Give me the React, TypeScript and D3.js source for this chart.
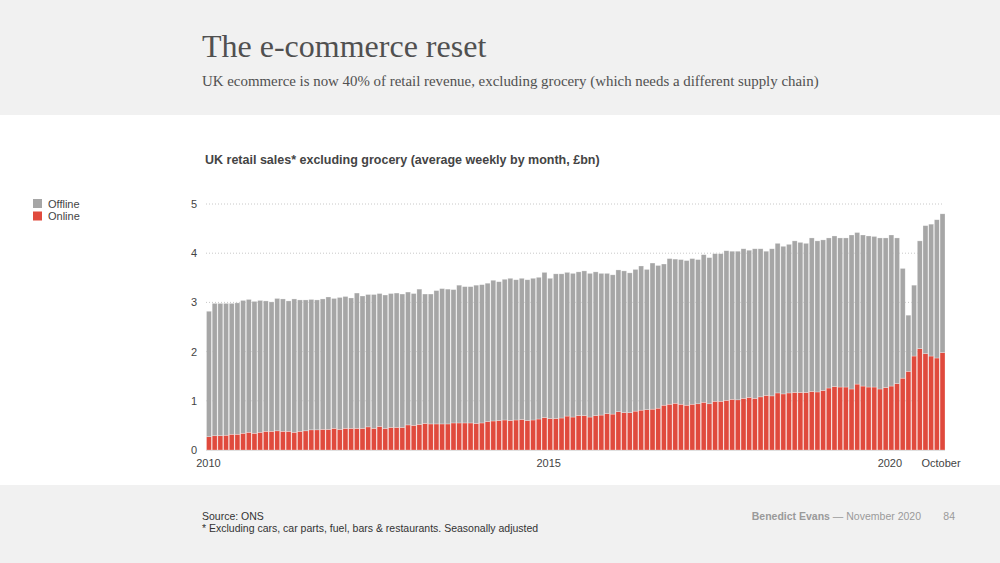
import React, { useRef, useEffect } from 'react';
import * as d3 from 'd3';

// Monthly, Jan 2010 .. Oct 2020 (£bn, average weekly)
const months: Date[] = d3.timeMonth.range(new Date(2010, 0, 1), new Date(2020, 10, 1));

const total: number[] = [
    2.82, 2.98, 2.98, 2.98, 2.98, 2.99, 3.04, 3.06, 3.02, 3.04, 3.03, 3.01,
    3.08, 3.07, 3.03, 3.07, 3.05, 3.05, 3.06, 3.05, 3.07, 3.11, 3.08, 3.10,
    3.12, 3.09, 3.19, 3.13, 3.16, 3.16, 3.18, 3.15, 3.18, 3.19, 3.17, 3.21,
    3.18, 3.27, 3.17, 3.17, 3.24, 3.28, 3.27, 3.26, 3.35, 3.32, 3.32, 3.35,
    3.36, 3.39, 3.45, 3.42, 3.47, 3.49, 3.46, 3.49, 3.46, 3.49, 3.51, 3.61,
    3.49, 3.58, 3.58, 3.61, 3.59, 3.62, 3.64, 3.59, 3.62, 3.59, 3.59, 3.56,
    3.66, 3.64, 3.60, 3.67, 3.74, 3.67, 3.80, 3.75, 3.78, 3.89, 3.88, 3.87,
    3.85, 3.89, 3.87, 3.97, 3.91, 3.99, 3.99, 4.05, 4.04, 4.04, 4.09, 4.06,
    4.09, 4.09, 4.04, 4.09, 4.20, 4.14, 4.18, 4.25, 4.22, 4.20, 4.31, 4.25,
    4.27, 4.31, 4.35, 4.31, 4.31, 4.37, 4.42, 4.37, 4.35, 4.34, 4.31, 4.31,
    4.37, 4.31, 3.69, 2.74, 3.35, 4.25, 4.56, 4.59, 4.68, 4.80,
];

const online: number[] = [
    0.27, 0.29, 0.29, 0.30, 0.32, 0.32, 0.34, 0.36, 0.34, 0.36, 0.38, 0.38,
    0.39, 0.38, 0.38, 0.36, 0.38, 0.39, 0.41, 0.41, 0.42, 0.42, 0.44, 0.42,
    0.44, 0.44, 0.44, 0.44, 0.47, 0.44, 0.48, 0.44, 0.46, 0.46, 0.46, 0.51,
    0.50, 0.52, 0.54, 0.53, 0.53, 0.53, 0.53, 0.55, 0.55, 0.55, 0.55, 0.54,
    0.55, 0.58, 0.59, 0.60, 0.61, 0.60, 0.61, 0.62, 0.60, 0.61, 0.63, 0.66,
    0.64, 0.64, 0.65, 0.69, 0.67, 0.70, 0.70, 0.67, 0.70, 0.71, 0.74, 0.73,
    0.78, 0.76, 0.76, 0.79, 0.81, 0.82, 0.83, 0.85, 0.91, 0.93, 0.95, 0.93,
    0.91, 0.93, 0.94, 0.97, 0.94, 0.99, 0.99, 1.01, 1.03, 1.02, 1.05, 1.07,
    1.05, 1.08, 1.11, 1.10, 1.16, 1.14, 1.16, 1.17, 1.17, 1.17, 1.19, 1.18,
    1.21, 1.26, 1.29, 1.28, 1.28, 1.24, 1.34, 1.30, 1.28, 1.28, 1.24, 1.27,
    1.30, 1.35, 1.46, 1.60, 1.91, 2.06, 1.96, 1.91, 1.87, 1.98,
];

const yTicks: number[] = [0, 1, 2, 3, 4, 5];
const xTickIndex: number[] = [0, 60, 120, 129];
const xTickLabels: string[] = ['2010', '2015', '2020', 'October'];

const seriesKeys = ['online', 'offline'];
const seriesNames = ['Online', 'Offline'];
const seriesColors = ['#e04a3d', '#a6a6a6'];

const SANS = '"Liberation Sans", Arial, sans-serif';
const SERIF = '"Liberation Serif", "DejaVu Serif", serif';

const App: React.FC = () => {
    const ref = useRef<SVGSVGElement>(null);

    useEffect(() => {
        const svg = d3.select(ref.current);
        svg.selectAll('*').remove();

        const W = 1000, H = 563;

        // bande grigie sopra e sotto
        svg.append('rect').attr('x', 0).attr('y', 0).attr('width', W).attr('height', 115).attr('fill', '#f1f1f1');
        svg.append('rect').attr('x', 0).attr('y', 485).attr('width', W).attr('height', H - 485).attr('fill', '#f1f1f1');

        svg.append('text')
            .attr('x', 202).attr('y', 57)
            .style('font-family', SERIF).style('font-size', '32px')
            .attr('fill', '#505050')
            .text('The e-commerce reset');

        svg.append('text')
            .attr('x', 202).attr('y', 86)
            .style('font-family', SERIF).style('font-size', '14.9px')
            .attr('fill', '#505050')
            .text('UK ecommerce is now 40% of retail revenue, excluding grocery (which needs a different supply chain)');

        svg.append('text')
            .attr('x', 205).attr('y', 164)
            .style('font-family', SANS).style('font-size', '12.5px').style('font-weight', 'bold')
            .attr('fill', '#444')
            .text('UK retail sales* excluding grocery (average weekly by month, £bn)');

        // Dati impilati
        const table = months.map((m, i) => ({ i, month: m, online: online[i], offline: total[i] - online[i] }));
        const stacked = d3.stack<any>().keys(seriesKeys)(table);

        const x = d3.scaleBand<number>()
            .domain(table.map(d => d.i))
            .range([206.5, 945])
            .paddingInner(0.13)
            .paddingOuter(0);

        const y = d3.scaleLinear().domain([0, 5]).range([450, 204]);

        const chart = svg.append('g');

        // griglia
        chart.selectAll('.grid')
            .data(yTicks.filter(t => t > 0))
            .enter()
            .append('line')
            .attr('x1', 206).attr('x2', 944)
            .attr('y1', d => y(d)).attr('y2', d => y(d))
            .attr('stroke', '#c8c8c8')
            .attr('stroke-width', 1)
            .attr('stroke-dasharray', '1,2');

        chart.append('line')
            .attr('x1', 206).attr('x2', 945)
            .attr('y1', y(0) + 0.5).attr('y2', y(0) + 0.5)
            .attr('stroke', '#dcdcdc');

        chart.selectAll('.ylabel')
            .data(yTicks)
            .enter()
            .append('text')
            .attr('x', 197)
            .attr('y', d => y(d) + 4)
            .attr('text-anchor', 'end')
            .style('font-family', SANS).style('font-size', '11px')
            .attr('fill', '#444')
            .text(d => String(d));

        // barre
        const layers = chart.selectAll('.layer')
            .data(stacked)
            .enter()
            .append('g')
            .attr('fill', (_d, k) => seriesColors[k]);

        layers.selectAll('rect')
            .data(d => d)
            .enter()
            .append('rect')
            .attr('x', d => x(d.data.i)!)
            .attr('width', x.bandwidth())
            .attr('y', d => y(d[1]))
            .attr('height', d => y(d[0]) - y(d[1]))
            .attr('stroke', '#ffffff')
            .attr('stroke-opacity', 0.45)
            .attr('stroke-width', 0.6);

        // etichette asse x
        chart.selectAll('.xlabel')
            .data(xTickIndex)
            .enter()
            .append('text')
            .attr('x', (d, k) => x(d)! + (k === 0 ? 2 : 1))
            .attr('y', 467)
            .attr('text-anchor', 'middle')
            .style('font-family', SANS).style('font-size', '11px')
            .attr('fill', '#444')
            .text((_d, k) => xTickLabels[k]);

        // legenda
        const legendOrder = [1, 0];
        const legend = svg.append('g');
        legendOrder.forEach((k, row) => {
            legend.append('rect')
                .attr('x', 33).attr('y', 199 + row * 12.5)
                .attr('width', 9).attr('height', 9)
                .attr('fill', seriesColors[k]);
            legend.append('text')
                .attr('x', 48).attr('y', 207.5 + row * 12.5)
                .style('font-family', SANS).style('font-size', '11px')
                .attr('fill', '#444')
                .text(seriesNames[k]);
        });

        // piè di pagina
        svg.append('text')
            .attr('x', 202).attr('y', 520)
            .style('font-family', SANS).style('font-size', '10.5px')
            .attr('fill', '#333')
            .text('Source: ONS');
        svg.append('text')
            .attr('x', 202).attr('y', 532)
            .style('font-family', SANS).style('font-size', '10.5px')
            .attr('fill', '#333')
            .text('* Excluding cars, car parts, fuel, bars & restaurants. Seasonally adjusted');

        const credit = svg.append('text')
            .attr('x', 921).attr('y', 520)
            .attr('text-anchor', 'end')
            .style('font-family', SANS).style('font-size', '10.5px')
            .attr('fill', '#9a9a9a');
        credit.append('tspan').style('font-weight', 'bold').text('Benedict Evans');
        credit.append('tspan').text('  — November 2020');

        svg.append('text')
            .attr('x', 955).attr('y', 520)
            .attr('text-anchor', 'end')
            .style('font-family', SANS).style('font-size', '10.5px')
            .attr('fill', '#9a9a9a')
            .text('84');
    }, []);

    return (
        <svg
            ref={ref}
            width={1000}
            height={563}
            style={{ position: 'absolute', left: 0, top: 0, background: '#fff' }}
        />
    );
};

export default App;
